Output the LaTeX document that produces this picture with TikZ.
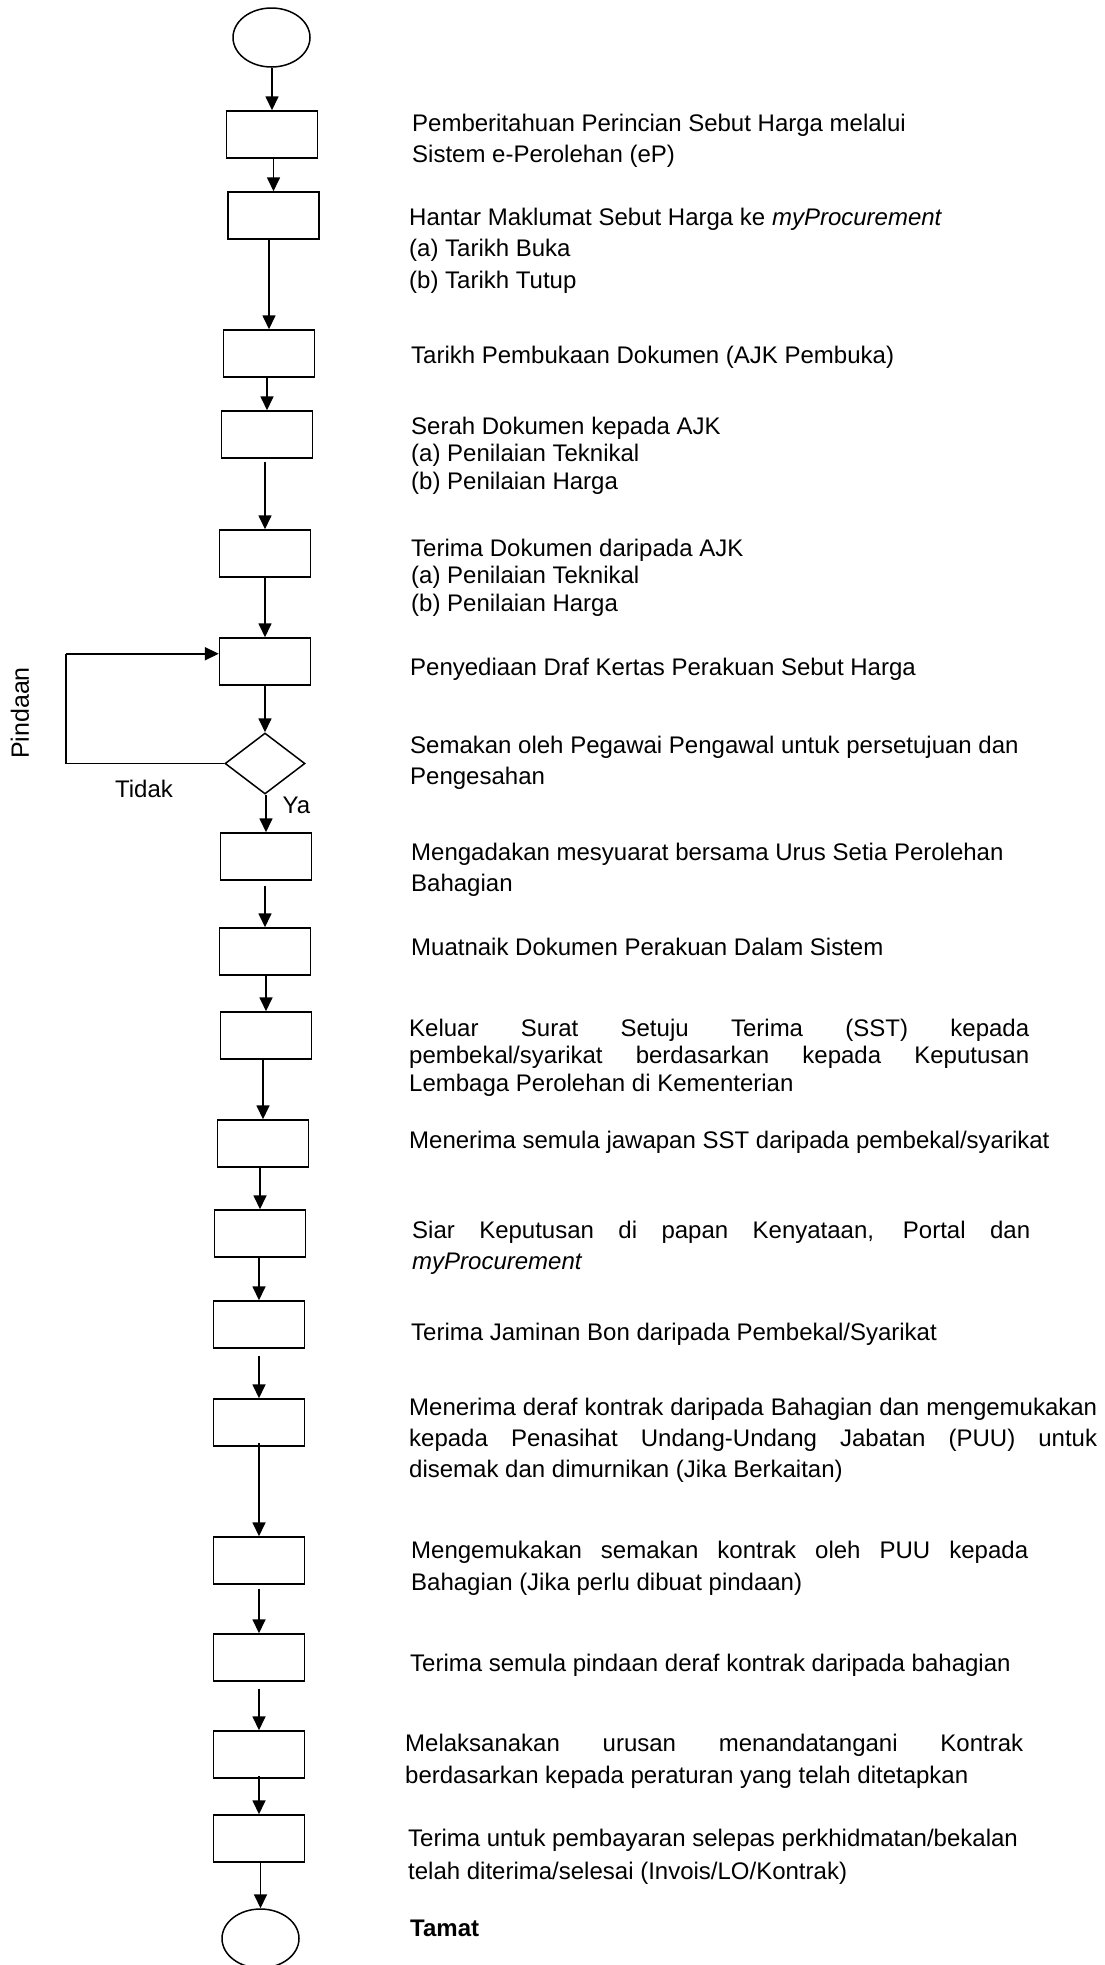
\documentclass[tikz,border=0pt]{standalone}
\usepackage{fontspec}
\setmainfont{Liberation Sans}
\usetikzlibrary{shapes.geometric,arrows.meta,calc}

\begin{document}
\begin{tikzpicture}[x=1pt,y=-1pt,
  box/.style={draw, line width=1.5pt, minimum width=91pt, minimum height=47pt, inner sep=0pt},
  term/.style={draw, ellipse, line width=1.5pt, minimum width=77pt, minimum height=59pt, inner sep=0pt},
  dec/.style={draw, diamond, line width=1.5pt, minimum width=80pt, minimum height=61pt, inner sep=0pt},
  arr/.style={line width=1.7pt, -{Triangle[length=14pt,width=13pt]}},
  % multi-line descriptions are placed by the baseline of their last line
  desc/.style={anchor=base west, align=left, inner sep=0pt, font=\fontsize{24}{31.5}\selectfont},
  tight/.style={font=\fontsize{24}{27.5}\selectfont},
  lbl/.style={inner sep=0pt, font=\fontsize{24}{28}\selectfont}
]
\useasboundingbox (0,0) rectangle (1105,1965);

% flow shapes
\node[term] (e1) at (271.5,37.5) {};
\node[box] (b1) at (272,134.5) {};
\node[box] (b2) at (273.5,215.5) {};
\node[box] (b3) at (269,353.5) {};
\node[box] (b4) at (267,434.5) {};
\node[box] (b5) at (265,553.5) {};
\node[box] (b6) at (265,661.5) {};
\node[dec] (d) at (265,763.5) {};
\node[box] (b7) at (266,856.5) {};
\node[box] (b8) at (265,951.5) {};
\node[box] (b9) at (266,1035.5) {};
\node[box] (b10) at (263,1143.5) {};
\node[box] (b11) at (260,1233.5) {};
\node[box] (b12) at (259,1324.5) {};
\node[box] (b13) at (259,1422.5) {};
\node[box] (b14) at (259,1560.5) {};
\node[box] (b15) at (259,1657.5) {};
\node[box] (b16) at (259,1754.5) {};
\node[box] (b17) at (259,1838.5) {};
\node[term] (e2) at (260.5,1938.5) {};

% connectors
\draw[arr] (e1.south -| b1.north) -- (b1.north);
\draw[arr] (b1.south -| b2.north) -- (b2.north);
\draw[arr] (b2.south -| b3.north) -- (b3.north);
\draw[arr] (b3.south -| b4.north) -- (b4.north);
\draw[arr, shorten <=3pt] (b4.south -| b5.north) -- (b5.north);
\draw[arr] (b5.south -| b6.north) -- (b6.north);
\draw[arr] (b6.south -| d.north) -- (d.north);
\draw[arr] (d.south -| b7.north) -- (b7.north);
\draw[arr, shorten <=5pt] (b7.south -| b8.north) -- (b8.north);
\draw[arr] (b8.south -| b9.north) -- (b9.north);
\draw[arr, shorten <=-2pt] (b9.south -| b10.north) -- (b10.north);
\draw[arr] (b10.south -| b11.north) -- (b11.north);
\draw[arr] (b11.south -| b12.north) -- (b12.north);
\draw[arr, shorten <=7pt] (b12.south -| b13.north) -- (b13.north);
\draw[arr, shorten <=-4pt] (b13.south -| b14.north) -- (b14.north);
\draw[arr, shorten <=4pt] (b14.south -| b15.north) -- (b15.north);
\draw[arr, shorten <=7pt] (b15.south -| b16.north) -- (b16.north);
\draw[arr, shorten <=-3pt] (b16.south -| b17.north) -- (b17.north);
\draw[arr] (b17.south -| e2.north) -- (e2.north);

% rejection loop back to the draft step
\coordinate (loopx) at (66,0);
\coordinate (fbin) at ($(b6.north west)!0.34!(b6.south west)$);
\draw[line width=1.7pt] (d.west) -- (d.west -| loopx) -- (loopx |- fbin);
\draw[arr, line width=2.2pt] (loopx |- fbin) -- (fbin);

\node[lbl, rotate=90, font=\fontsize{25}{30}\selectfont] (pind) at (20,713) {Pindaan};
\node[lbl] (tidak) at (144,789) {Tidak};
\node[lbl] (ya) at (296.5,805) {Ya};

% step descriptions
\node[desc] (t1) at (412,162.5) {Pemberitahuan Perincian Sebut Harga melalui\\Sistem e-Perolehan (eP)};
\node[desc] (t2) at (409,288) {Hantar Maklumat Sebut Harga ke \textit{myProcurement}\\(a) Tarikh Buka\\(b) Tarikh Tutup};
\node[desc] (t3) at (411,363) {Tarikh Pembukaan Dokumen (AJK Pembuka)};
\node[desc, tight] (t4) at (411,489) {Serah Dokumen kepada AJK\\(a) Penilaian Teknikal\\(b) Penilaian Harga};
\node[desc, tight] (t5) at (411,611) {Terima Dokumen daripada AJK\\(a) Penilaian Teknikal\\(b) Penilaian Harga};
\node[desc] (t6) at (410,675) {Penyediaan Draf Kertas Perakuan Sebut Harga};
\node[desc] (t7) at (410,784.5) {Semakan oleh Pegawai Pengawal untuk persetujuan dan\\Pengesahan};
\node[desc] (t8) at (411,891.5) {Mengadakan mesyuarat bersama Urus Setia Perolehan\\Bahagian};
\node[desc] (t9) at (411,955) {Muatnaik Dokumen Perakuan Dalam Sistem};
\node[desc, tight] (t10) at (409,1091) {\makebox[620pt][s]{Keluar Surat Setuju Terima (SST) kepada}\\\makebox[620pt][s]{pembekal/syarikat berdasarkan kepada Keputusan}\\Lembaga Perolehan di Kementerian};
\node[desc] (t11) at (409,1148) {Menerima semula jawapan SST daripada pembekal/syarikat};
\node[desc] (t12) at (412,1269.5) {\makebox[618pt][s]{Siar Keputusan di papan Kenyataan, Portal dan}\\\textit{myProcurement}};
\node[desc] (t13) at (411,1340) {Terima Jaminan Bon daripada Pembekal/Syarikat};
\node[desc, font=\fontsize{24}{31}\selectfont] (t14) at (409,1477) {\makebox[688pt][s]{Menerima deraf kontrak daripada Bahagian dan mengemukakan}\\\makebox[688pt][s]{kepada Penasihat Undang-Undang Jabatan (PUU) untuk}\\disemak dan dimurnikan (Jika Berkaitan)};
\node[desc, font=\fontsize{24}{32}\selectfont] (t15) at (411,1590) {\makebox[617pt][s]{Mengemukakan semakan kontrak oleh PUU kepada}\\Bahagian (Jika perlu dibuat pindaan)};
\node[desc] (t16) at (410,1671) {Terima semula pindaan deraf kontrak daripada bahagian};
\node[desc, font=\fontsize{24}{32}\selectfont] (t17) at (405,1783) {\makebox[618pt][s]{Melaksanakan urusan menandatangani Kontrak}\\berdasarkan kepada peraturan yang telah ditetapkan};
\node[desc, font=\fontsize{24}{33}\selectfont] (t18) at (408,1879) {Terima untuk pembayaran selepas perkhidmatan/bekalan\\telah diterima/selesai (Invois/LO/Kontrak)};
\node[desc, font=\fontsize{24}{28}\selectfont\bfseries] (t19) at (410,1936) {Tamat};
\end{tikzpicture}
\end{document}
